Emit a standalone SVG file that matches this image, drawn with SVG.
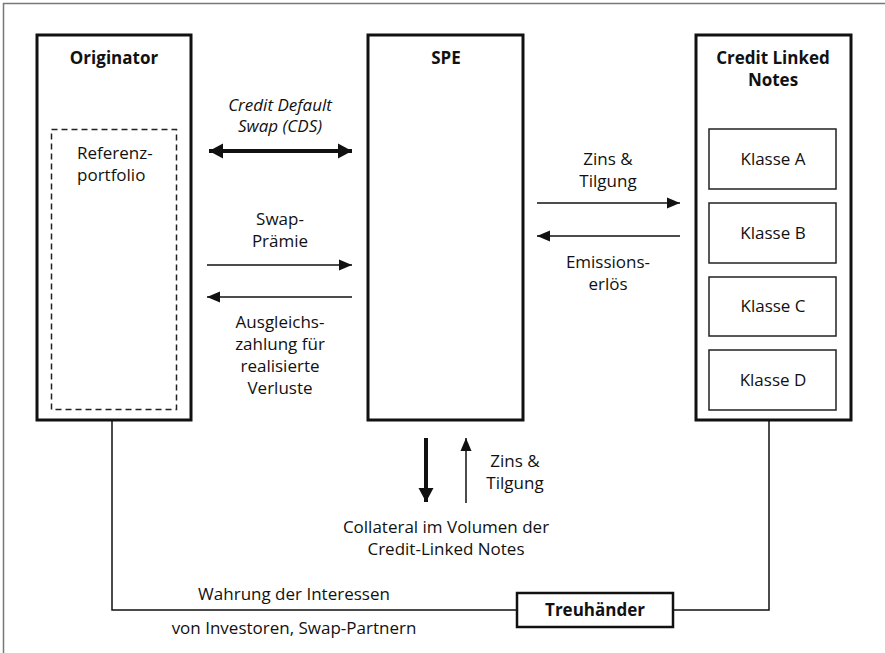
<svg xmlns="http://www.w3.org/2000/svg" width="885" height="653" viewBox="0 0 885 653">
<defs>
<marker id="ah" markerUnits="userSpaceOnUse" markerWidth="14" markerHeight="12" refX="13" refY="6" orient="auto-start-reverse"><path d="M0,0.5 L13,6 L0,11.5 z" fill="#111"/></marker>
<marker id="ahb" markerUnits="userSpaceOnUse" markerWidth="16" markerHeight="16" refX="14" refY="8" orient="auto-start-reverse"><path d="M0,0.5 L14,8 L0,15.5 z" fill="#111"/></marker>
<style>
text{font-family:"Open Sans","Liberation Sans",sans-serif;font-size:17px;fill:#111;text-anchor:middle}
.b{font-weight:bold}
.i{font-style:italic}
.box{fill:none;stroke:#111;stroke-width:3}
.sub{fill:none;stroke:#222;stroke-width:1.5}
.ln{fill:none;stroke:#111;stroke-width:1.5}
.thk{fill:none;stroke:#111;stroke-width:4}
</style>
</defs>
<rect x="3.5" y="3.5" width="900" height="700" fill="none" stroke="#777" stroke-width="1.5"/>
<g id="originator">
<rect class="box" x="37" y="35" width="154" height="385"/>
<text class="b" x="114" y="64">Originator</text>
<rect x="51.5" y="129.5" width="125" height="280" fill="none" stroke="#222" stroke-width="1.5" stroke-dasharray="6,4"/>
<text x="77" y="159" style="text-anchor:start">Referenz-</text>
<text x="77" y="181" style="text-anchor:start">portfolio</text>
</g>
<g id="spe">
<rect class="box" x="368" y="35" width="155" height="385"/>
<text class="b" x="446" y="64">SPE</text>
</g>
<g id="cln">
<rect class="box" x="696" y="35" width="155" height="385"/>
<text class="b" x="773" y="64">Credit Linked</text>
<text class="b" x="773" y="86">Notes</text>
<g id="klasse-a"><rect class="sub" x="709" y="129" width="127" height="60"/><text x="773" y="165">Klasse A</text></g>
<g id="klasse-b"><rect class="sub" x="709" y="203" width="127" height="60"/><text x="773" y="239">Klasse B</text></g>
<g id="klasse-c"><rect class="sub" x="709" y="277" width="127" height="59"/><text x="773" y="312">Klasse C</text></g>
<g id="klasse-d"><rect class="sub" x="709" y="350" width="127" height="60"/><text x="773" y="386">Klasse D</text></g>
</g>
<g id="treuhaender">
<rect x="517" y="593" width="156" height="34" fill="#fff" stroke="#111" stroke-width="2.5"/>
<text class="b" x="595" y="616">Treuhänder</text>
</g>
<g id="connectors">
<line class="thk" x1="209" y1="151" x2="352" y2="151" marker-start="url(#ahb)" marker-end="url(#ahb)"/>
<line class="ln" x1="207" y1="265" x2="352" y2="265" marker-end="url(#ah)"/>
<line class="ln" x1="352" y1="297" x2="207" y2="297" marker-end="url(#ah)"/>
<line class="ln" x1="537" y1="203" x2="680" y2="203" marker-end="url(#ah)"/>
<line class="ln" x1="680" y1="236" x2="537" y2="236" marker-end="url(#ah)"/>
<line class="thk" x1="426" y1="438" x2="426" y2="502" marker-end="url(#ahb)"/>
<line class="ln" x1="466" y1="503" x2="466" y2="438" marker-end="url(#ah)"/>
<polyline class="ln" points="112,421 112,610 517,610"/>
<polyline class="ln" points="673,610 769,610 769,421"/>
</g>
<g id="labels">
<text class="i" x="280" y="111">Credit Default</text>
<text class="i" x="280" y="132">Swap (CDS)</text>
<text x="280" y="225">Swap-</text>
<text x="280" y="247">Prämie</text>
<text x="280" y="328">Ausgleichs-</text>
<text x="280" y="350">zahlung für</text>
<text x="280" y="372">realisierte</text>
<text x="280" y="394">Verluste</text>
<text x="608" y="165">Zins &amp;</text>
<text x="608" y="187">Tilgung</text>
<text x="608" y="268">Emissions-</text>
<text x="608" y="290">erlös</text>
<text x="515" y="467">Zins &amp;</text>
<text x="515" y="489">Tilgung</text>
<text x="446" y="533">Collateral im Volumen der</text>
<text x="446" y="555">Credit-Linked Notes</text>
<text x="294" y="600">Wahrung der Interessen</text>
<text x="294" y="634">von Investoren, Swap-Partnern</text>
</g>
</svg>
